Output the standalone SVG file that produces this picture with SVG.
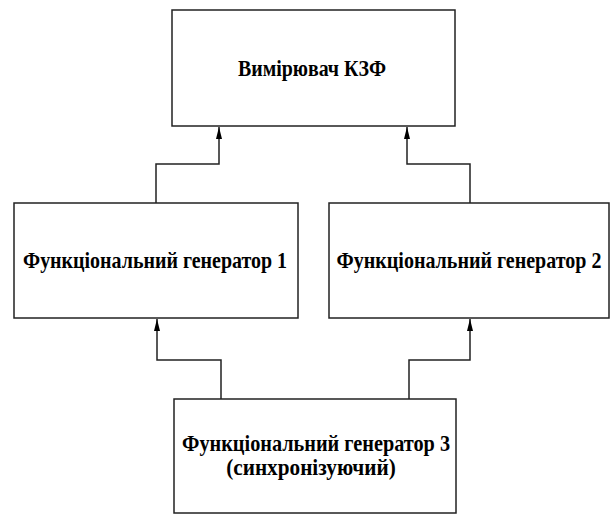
<svg xmlns="http://www.w3.org/2000/svg" width="610" height="515" viewBox="0 0 610 515">
<style>
.box{fill:#fff;stroke:#222;stroke-width:1.5}
.lbl{font-family:"Liberation Serif","Times New Roman",serif;font-weight:bold;font-size:24px;fill:#000;text-anchor:middle}
.con{fill:none;stroke:#222;stroke-width:1.5}
</style>
<defs>
<marker id="ah" viewBox="0 0 12 6" refX="12" refY="3" markerWidth="12" markerHeight="6" markerUnits="userSpaceOnUse" orient="auto">
<path d="M0,0 L12,3 L0,6 Z" fill="#000"/>
</marker>
</defs>
<rect width="610" height="515" fill="#fff"/>
<g id="n-measure"><rect class="box" x="172" y="10" width="283" height="116"/><text class="lbl" transform="translate(312,76) scale(0.8,1)" textLength="185" lengthAdjust="spacingAndGlyphs">Вимірювач КЗФ</text></g>
<g id="n-gen1"><rect class="box" x="14" y="203" width="284" height="115"/><text class="lbl" transform="translate(155,268) scale(0.8,1)" textLength="330" lengthAdjust="spacingAndGlyphs">Функціональний генератор 1</text></g>
<g id="n-gen2"><rect class="box" x="329" y="203" width="280" height="115"/><text class="lbl" transform="translate(469,268) scale(0.8,1)" textLength="331" lengthAdjust="spacingAndGlyphs">Функціональний генератор 2</text></g>
<g id="n-gen3"><rect class="box" x="174" y="399" width="282" height="114"/><text class="lbl" transform="translate(316,451) scale(0.8,1)" textLength="335" lengthAdjust="spacingAndGlyphs">Функціональний генератор 3</text><text class="lbl" transform="translate(311,475) scale(0.8,1)" textLength="212" lengthAdjust="spacingAndGlyphs">(синхронізуючий)</text></g>
<g id="connectors">
<path class="con" d="M156,203 V164 H219 V127" marker-end="url(#ah)"/>
<path class="con" d="M470,203 V164 H407 V127" marker-end="url(#ah)"/>
<path class="con" d="M221,399 V360 H157 V319" marker-end="url(#ah)"/>
<path class="con" d="M409,399 V360 H470 V319" marker-end="url(#ah)"/>
</g>
</svg>
